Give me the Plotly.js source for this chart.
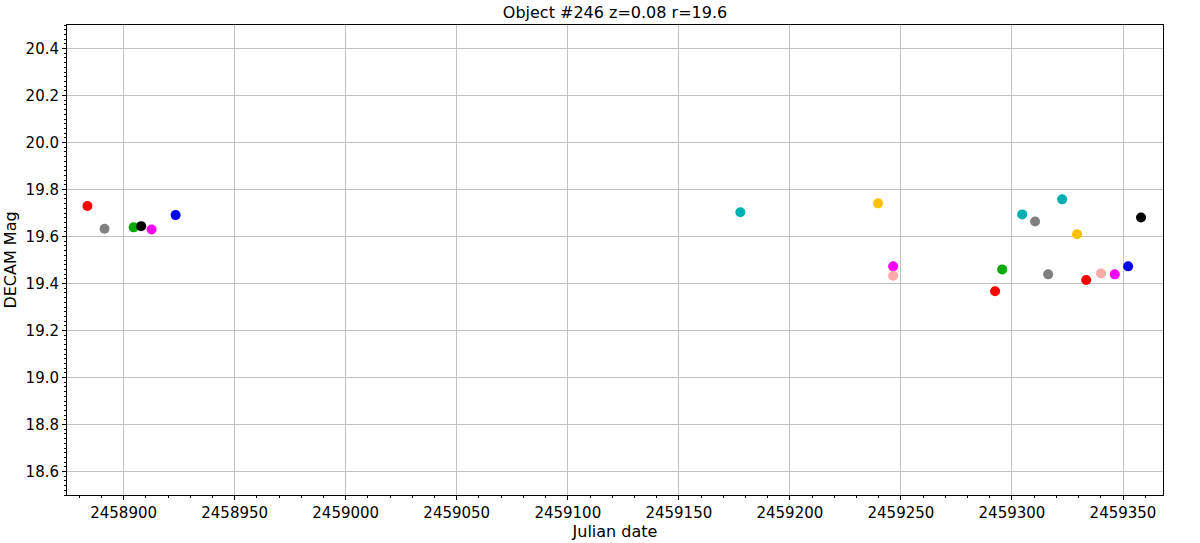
<!DOCTYPE html>
<html><head><meta charset="utf-8">
<script src="https://cdn.plot.ly/plotly-3.0.1.min.js"></script>
<style>html,body{margin:0;padding:0;background:#fff}#chart{width:1200px;height:543px}</style>
</head><body><div id="chart"></div>
<script>
const groupNames = ['red','gray','green','black','magenta','blue','cyan','yellow','pink'];
const groupColors = ['#ff0000','#808080','#00aa00','#000000','#ff00ff','#0000ff','#00b0b0','#ffc000','#ffaaaa'];
const redJD = [2458883.7, 2459292.4, 2459333.4];
const redMag = [19.730, 19.367, 19.415];
const grayJD = [2458891.4, 2459310.4, 2459316.3];
const grayMag = [19.633, 19.664, 19.439];
const greenJD = [2458904.5, 2459295.6];
const greenMag = [19.639, 19.460];
const blackJD = [2458907.9, 2459358.1];
const blackMag = [19.644, 19.681];
const magentaJD = [2458912.6, 2459246.5, 2459346.3];
const magentaMag = [19.630, 19.473, 19.439];
const blueJD = [2458923.4, 2459352.3];
const blueMag = [19.691, 19.473];
const cyanJD = [2459177.7, 2459304.6, 2459322.6];
const cyanMag = [19.703, 19.694, 19.758];
const yellowJD = [2459239.7, 2459329.3];
const yellowMag = [19.741, 19.610];
const pinkJD = [2459246.5, 2459340.1];
const pinkMag = [19.433, 19.443];

const xs = [redJD, grayJD, greenJD, blackJD, magentaJD, blueJD, cyanJD, yellowJD, pinkJD];
const ys = [redMag, grayMag, greenMag, blackMag, magentaMag, blueMag, cyanMag, yellowMag, pinkMag];

const traces = groupNames.map((n, i) => ({
  type: 'scatter', mode: 'markers', name: n,
  x: xs[i], y: ys[i],
  marker: {color: groupColors[i], size: 10, line: {width: 0}}
}));

const font = {family: 'DejaVu Sans, sans-serif', color: '#000'};
const layout = {
  width: 1200, height: 543,
  margin: {l: 67, r: 37, t: 25, b: 48},
  paper_bgcolor: '#fff', plot_bgcolor: '#fff',
  showlegend: false,
  title: {text: 'Object #246 z=0.08 r=19.6', font: {...font, size: 16}, xref: 'paper', x: 0.5, xanchor: 'center', y: 0.978, yanchor: 'middle'},
  xaxis: {
    range: [2458874.5, 2459368], dtick: 50, tick0: 2458900, tickformat: 'd',
    showgrid: true, gridcolor: '#c0c0c0', gridwidth: 1, zeroline: false,
    showline: true, linecolor: '#000', linewidth: 1, mirror: true,
    ticks: 'outside', ticklen: 4, tickcolor: '#000',
    minor: {dtick: 10, ticklen: 2, tickcolor: '#000', showgrid: false, ticks: 'outside'},
    tickfont: {...font, size: 15},
    title: {text: 'Julian date', font: {...font, size: 16}, standoff: 4}
  },
  yaxis: {
    range: [18.5, 20.5], dtick: 0.2, tick0: 18.6, tickformat: '.1f',
    showgrid: true, gridcolor: '#c0c0c0', gridwidth: 1, zeroline: false,
    showline: true, linecolor: '#000', linewidth: 1, mirror: true,
    ticks: 'outside', ticklen: 4, tickcolor: '#000',
    minor: {dtick: 0.02, ticklen: 2, tickcolor: '#000', showgrid: false, ticks: 'outside'},
    tickfont: {...font, size: 15},
    title: {text: 'DECAM Mag', font: {...font, size: 16}, standoff: 4}
  }
};
Plotly.newPlot('chart', traces, layout, {displayModeBar: false, staticPlot: true});
</script></body></html>
